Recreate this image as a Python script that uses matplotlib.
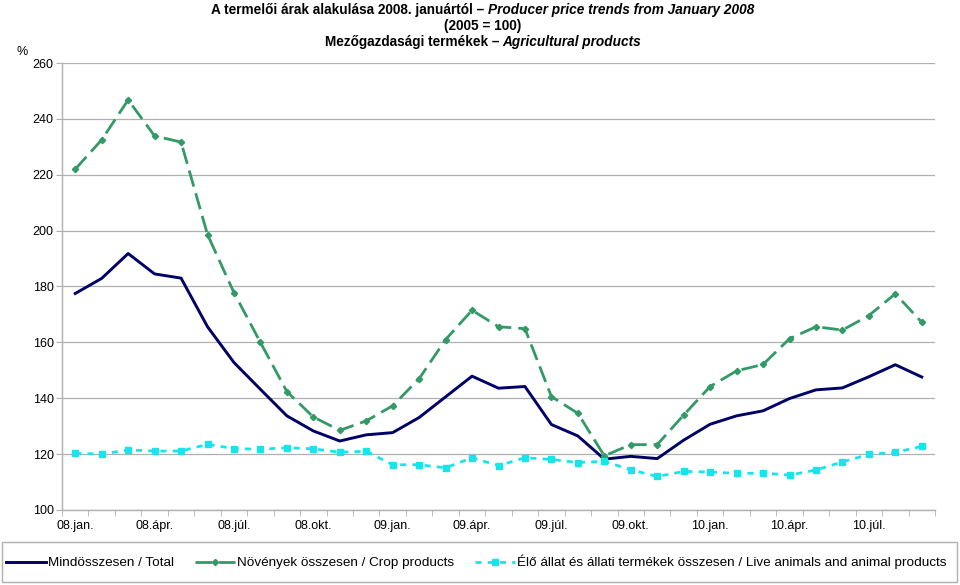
import numpy as np
import matplotlib
matplotlib.use("Agg")
import matplotlib.pyplot as plt
from matplotlib.lines import Line2D
from matplotlib.patches import Rectangle

plt.rcParams['font.family'] = ['Liberation Sans', 'DejaVu Sans']

# Monthly periods, Jan 2008 - Sep 2010
hu_months = ['jan.', 'febr.', 'márc.', 'ápr.', 'máj.', 'jún.',
             'júl.', 'aug.', 'szept.', 'okt.', 'nov.', 'dec.']
periods = [f"{y:02d}.{m}" for y in (8, 9, 10) for m in hu_months][:33]

# Indices, 2005 = 100
total = [177.5, 182.9, 191.8, 184.5, 183.0, 165.6, 152.8, 143.2, 133.7, 128.3,
         124.7, 126.9, 127.7, 133.1, 140.5, 147.9, 143.6, 144.2, 130.6, 126.5,
         118.2, 119.2, 118.4, 125.0, 130.7, 133.7, 135.5, 139.9, 143.0, 143.7,
         147.7, 152.0, 147.6]
crop = [222.0, 232.5, 246.8, 233.9, 231.7, 198.6, 177.8, 160.0, 142.4, 133.3,
        128.5, 131.9, 137.3, 147.0, 161.0, 171.5, 165.6, 164.9, 140.6, 134.6,
        119.4, 123.4, 123.4, 134.0, 144.2, 149.8, 152.1, 161.3, 165.6, 164.4,
        169.6, 177.4, 167.2]
animal = [120.3, 120.0, 121.5, 121.1, 121.1, 123.5, 122.0, 121.7, 122.3, 121.9,
          120.7, 121.0, 116.2, 116.2, 115.1, 118.7, 115.9, 118.7, 118.1, 117.0,
          117.4, 114.4, 112.0, 113.8, 113.6, 113.1, 113.2, 112.5, 114.3, 117.2,
          119.9, 120.6, 122.8]

series_names = ['Mindösszesen / Total',
                'Növények összesen / Crop products',
                'Élő állat és állati termékek összesen / Live animals and animal products']

fig = plt.figure(figsize=(9.6, 5.85), dpi=100)
ax = fig.add_axes([62 / 960, 75 / 585, 873 / 960, 447 / 585])

x = np.arange(len(periods))
grey = '#b0b0b0'

styles = [
    dict(color='#000066', lw=2.1),
    dict(color='#339966', lw=2.0, linestyle=(0, (6, 2.5)), marker='D', markersize=3.2),
    dict(color='#18E4EC', lw=2.0, linestyle=(0, (2.2, 2.2)), marker='s', markersize=4.5),
]
for values, st in zip([total, crop, animal], styles):
    ax.plot(x, values, **st)

ax.set_xlim(-0.5, len(periods) - 0.5)
ax.set_ylim(100, 260)
ax.set_yticks(np.arange(100, 261, 20))
ax.yaxis.grid(True, color=grey, lw=0.9)
ax.set_axisbelow(True)

ax.set_xticks(x[::3])
ax.set_xticklabels(periods[::3], fontsize=9)
ax.set_xticks(np.arange(-0.5, len(periods)), minor=True)
ax.tick_params(axis='x', which='major', length=0, pad=7)
ax.tick_params(axis='x', which='minor', length=4, color=grey, direction='out')
ax.tick_params(axis='y', length=4, color=grey, labelsize=9, pad=2)

for side in ('top', 'right'):
    ax.spines[side].set_visible(False)
for side in ('left', 'bottom'):
    ax.spines[side].set_color(grey)
    ax.spines[side].set_linewidth(1.0)

fig.text(22 / 960, 1 - 52 / 585, '%', fontsize=9, ha='center', va='center')


# title lines, mixed upright / italic
def title_line(ypix, segments, size=9.8):
    texts = [fig.text(0, 1 - ypix / 585, s, fontsize=size, fontweight='bold',
                      style=st, va='center', ha='left') for s, st in segments]
    fig.canvas.draw()
    r = fig.canvas.get_renderer()
    widths = [t.get_window_extent(r).width for t in texts]
    x0 = 483 - sum(widths) / 2
    for t, w in zip(texts, widths):
        t.set_x(x0 / 960)
        x0 += w


title_line(10, [('A termelői árak alakulása 2008. januártól – ', 'normal'),
                ('Producer price trends from January 2008', 'italic')])
title_line(26, [('(2005 = 100)', 'normal')])
title_line(42, [('Mezőgazdasági termékek – ', 'normal'),
                ('Agricultural products', 'italic')])

# legend box
fig.patches.append(Rectangle((2 / 960, 3 / 585), 955 / 960, 40 / 585,
                             transform=fig.transFigure, fill=False,
                             edgecolor=grey, lw=1.0))
handles = [Line2D([], [], **st) for st in styles]
leg = fig.legend(handles, series_names, loc='center', ncol=3,
                 bbox_to_anchor=(476 / 960, 1 - 562 / 585),
                 fontsize=9.7, frameon=False, handlelength=3.0,
                 handletextpad=0.12, columnspacing=1.55, borderpad=0)

fig.savefig('out.png', dpi=100)
